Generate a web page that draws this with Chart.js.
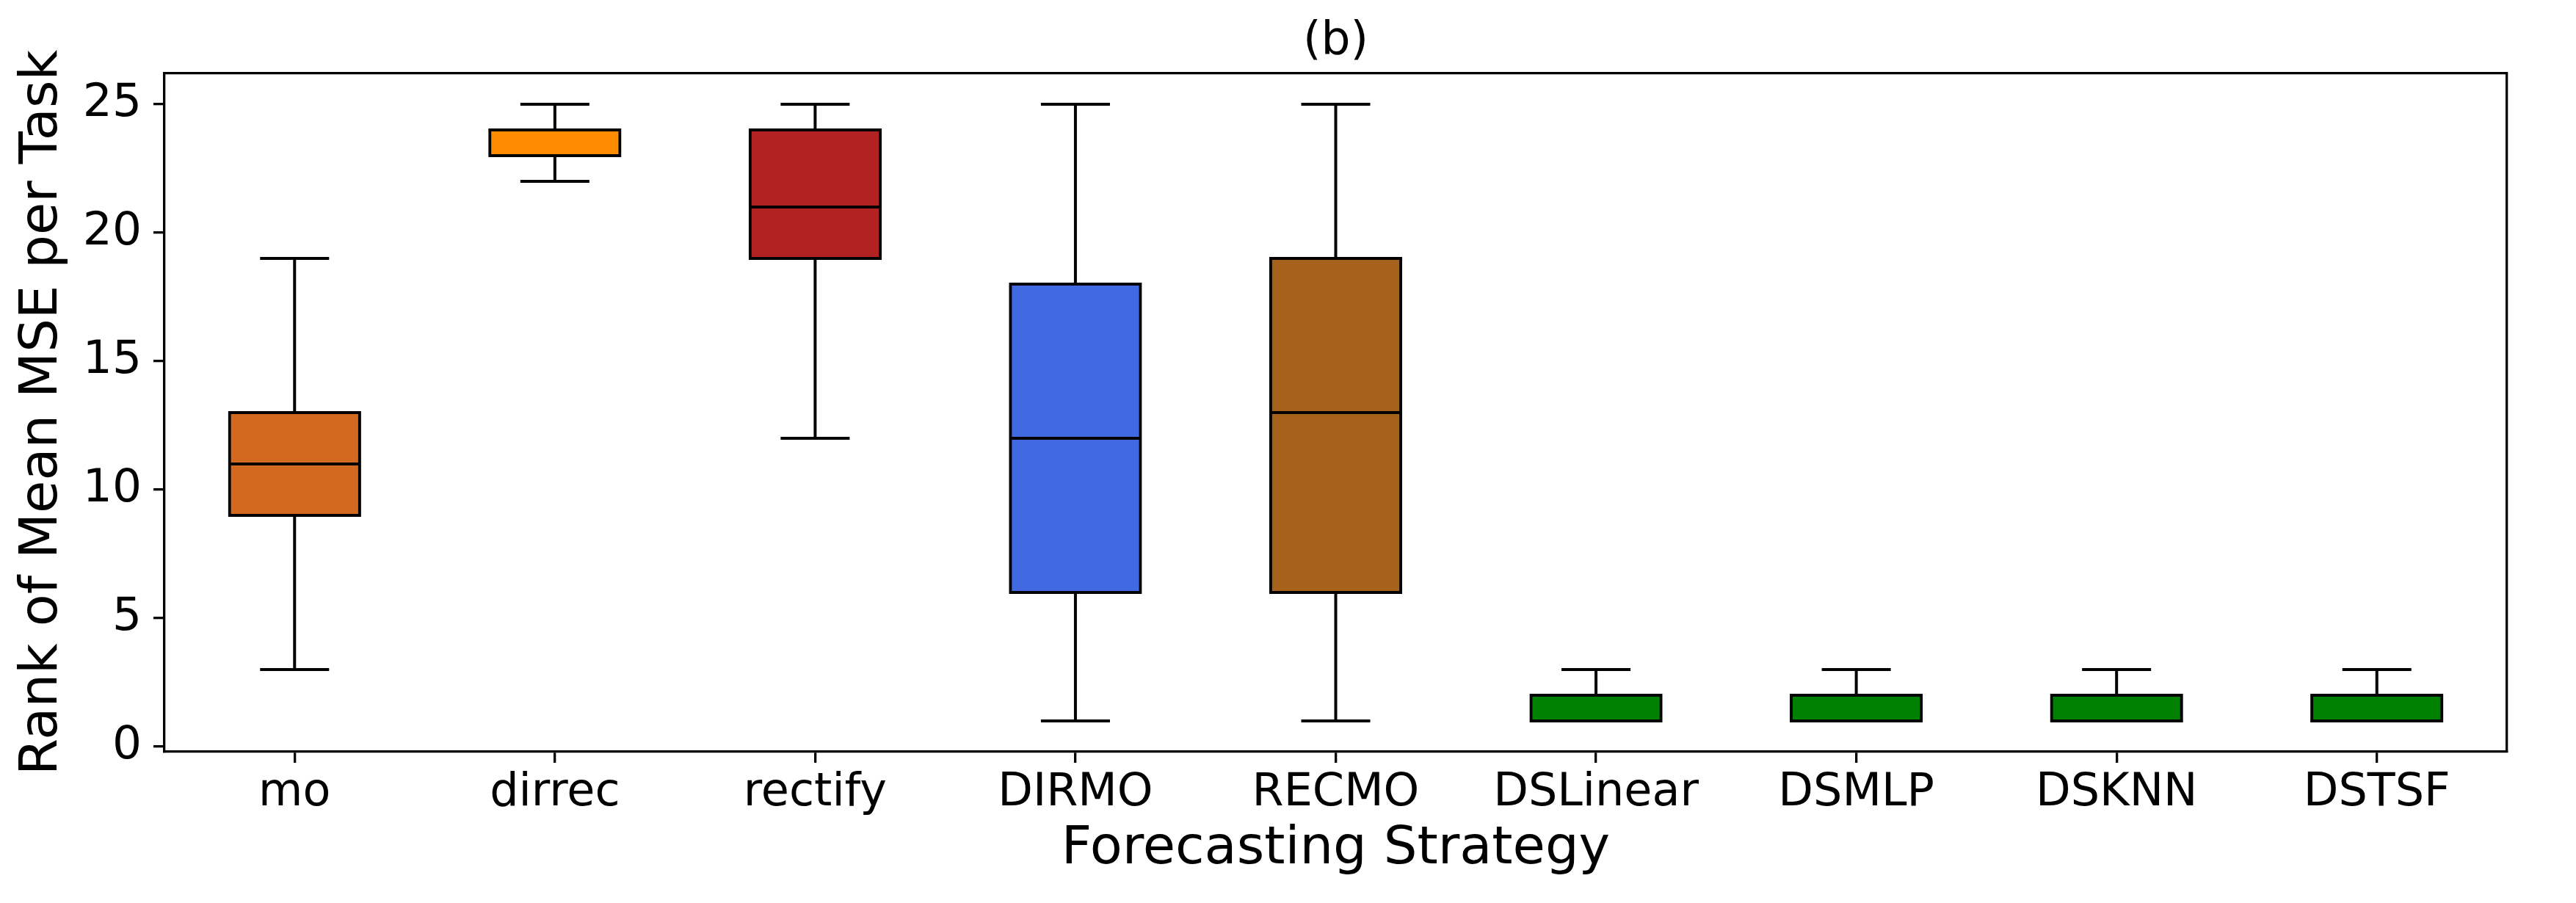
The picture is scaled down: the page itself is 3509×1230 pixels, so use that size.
<!DOCTYPE html>
<html>
<head>
<meta charset="utf-8">
<script src="https://cdn.jsdelivr.net/npm/chart.js@4/dist/chart.umd.min.js"></script>
<style>
  body { margin: 0; background: #fff; }
  canvas { display: block; }
</style>
</head>
<body>
<canvas id="chart" width="3509" height="1230"></canvas>
<script>
const strategies = ['mo', 'dirrec', 'rectify', 'DIRMO', 'RECMO', 'DSLinear', 'DSMLP', 'DSKNN', 'DSTSF'];
const whiskerLow = [3, 22, 12, 1, 1, 1, 1, 1, 1];
const quartile1 = [9, 23, 19, 6, 6, 1, 1, 1, 1];
const medians = [11, 24, 21, 12, 13, 1, 1, 1, 1];
const quartile3 = [13, 24, 24, 18, 19, 2, 2, 2, 2];
const whiskerHigh = [19, 25, 25, 25, 25, 3, 3, 3, 3];
const boxColors = ['#D2691E', '#FF8C00', '#B22222', '#4169E1', '#A6611A', '#008000', '#008000', '#008000', '#008000'];
const yTicks = [0, 5, 10, 15, 20, 25];

Chart.defaults.font.family = 'DejaVu Sans';
Chart.defaults.color = '#000';

// floating bars for the boxes and whiskers
var boxes = strategies.map(function(s, i) { return [quartile1[i], quartile3[i]]; });
var whiskers = strategies.map(function(s, i) { return [whiskerLow[i], whiskerHigh[i]]; });

function capSet(values, radius) {
    return {
        type: 'line',
        data: values,
        showLine: false,
        pointStyle: 'line',
        pointRadius: radius,
        pointHoverRadius: radius,
        pointBorderWidth: 4,
        pointHoverBorderWidth: 4,
        pointBorderColor: '#000',
        borderColor: '#000',
        order: 0
    };
}

const config = {
    type: 'bar',
    data: {
        labels: strategies,
        datasets: [
            {
                data: whiskers,
                backgroundColor: '#000',
                barThickness: 4,
                grouped: false,
                inflateAmount: 0,
                order: 2
            },
            {
                data: boxes,
                backgroundColor: boxColors,
                borderColor: '#000',
                borderWidth: 4,
                borderSkipped: false,
                barPercentage: 0.5,
                categoryPercentage: 1,
                grouped: false,
                inflateAmount: 2,
                order: 1
            },
            capSet(whiskerLow, 47),
            capSet(whiskerHigh, 47),
            capSet(medians, 90)
        ]
    },
    options: {
        responsive: false,
        devicePixelRatio: 1,
        animation: false,
        layout: { padding: 0 },
        plugins: {
            legend: { display: false },
            tooltip: { enabled: false },
            title: { display: false }
        },
        scales: {
            x: {
                position: 'bottom',
                offset: true,
                grid: { display: true, drawOnChartArea: false, drawTicks: true, tickLength: 15, lineWidth: 3.3, color: '#000', offset: false },
                border: { display: true, color: '#000', width: 3.3 },
                ticks: { font: { size: 62 }, padding: 5, maxRotation: 0, autoSkip: false },
                title: { display: true, text: 'Forecasting Strategy', font: { size: 72 }, padding: { top: 0, bottom: 30 } },
                afterFit: function(scale) { scale.height = 206; }
            },
            x2: {
                position: 'top',
                offset: true,
                grid: { display: false },
                border: { display: true, color: '#000', width: 3.3 },
                ticks: { display: false },
                title: { display: true, text: '(b)', font: { size: 63 }, padding: { top: 19, bottom: 0 } },
                afterFit: function(scale) { scale.height = 100; }
            },
            y: {
                position: 'left',
                min: -0.2,
                max: 26.2,
                afterBuildTicks: function(scale) {
                    scale.ticks = yTicks.map(function(v) { return { value: v }; });
                },
                grid: { display: true, drawOnChartArea: false, drawTicks: true, tickLength: 15, lineWidth: 3.3, color: '#000' },
                border: { display: true, color: '#000', width: 3.3 },
                ticks: { font: { size: 63 }, padding: 16 },
                title: { display: true, text: 'Rank of Mean MSE per Task', font: { size: 72 }, padding: { top: 15, bottom: 0 } },
                afterFit: function(scale) { scale.width = 224; }
            },
            y2: {
                position: 'right',
                grid: { display: false },
                border: { display: true, color: '#000', width: 3.3 },
                ticks: { display: false },
                afterFit: function(scale) { scale.width = 31; }
            }
        }
    }
};

var ctx = document.getElementById('chart');
var boxChart = new Chart(ctx, config);
</script>
</body>
</html>
